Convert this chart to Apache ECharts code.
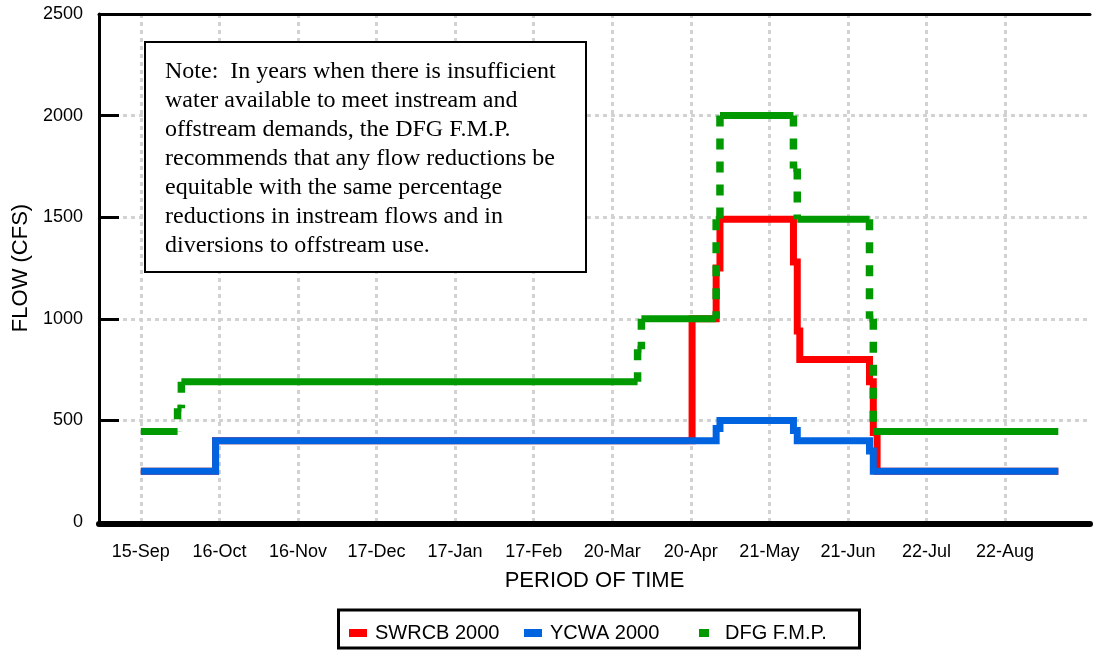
<!DOCTYPE html>
<html>
<head>
<meta charset="utf-8">
<title>Flow schedule</title>
<script src="https://cdn.jsdelivr.net/npm/echarts@6/dist/echarts.min.js"></script>
<style>
  html, body { margin: 0; padding: 0; background: #fff; }
  #main { width: 1093px; height: 650px; }
</style>
</head>
<body>
<div id="main"></div>
<script>
// x values are days counted from 15-Sep
var tickDays = [0, 31, 62, 93, 124, 155, 186, 217, 248, 279, 310, 341];
var tickLabels = ['15-Sep', '16-Oct', '16-Nov', '17-Dec', '17-Jan', '17-Feb',
                  '20-Mar', '20-Apr', '21-May', '21-Jun', '22-Jul', '22-Aug'];

// each flow holds from its day until the next day in the list
var swrcbDays = [0, 29.5, 217.5, 227, 228.5, 257.5, 259, 260, 287.5, 289, 290.5, 362];
var swrcbFlow = [250, 400, 1000, 1250, 1490, 1280, 940, 800, 690, 440, 250, 250];

var ycwaDays = [0, 29.5, 227, 228.5, 257.5, 259, 287.5, 289, 362];
var ycwaFlow = [250, 400, 460, 500, 450, 400, 350, 250, 250];

var dfgDays = [0, 14.5, 16, 196, 197.5, 227, 228.5, 257.5, 259, 287.5, 289, 362];
var dfgFlow = [445, 560, 690, 850, 1000, 1490, 2000, 1740, 1490, 1000, 445, 445];

var noteLines = [
  'Note:  In years when there is insufficient',
  'water available to meet instream and',
  'offstream demands, the DFG F.M.P.',
  'recommends that any flow reductions be',
  'equitable with the same percentage',
  'reductions in instream flows and in',
  'diversions to offstream use.'
];

var RED = '#FF0000', BLUE = '#0064E1', GREEN = '#009A00';
var SANS = '"Liberation Sans", Arial, sans-serif';
var SERIF = '"Liberation Serif", "Times New Roman", serif';

function pairs(days, flow) {
  return days.map(function (d, i) { return [d, flow[i]]; });
}

// DFG line: flat parts solid, the jumps dashed (as in the original)
var dfgFlat = [], dfgJumps = [];
for (var i = 0; i < dfgDays.length - 1; i++) {
  dfgFlat.push([dfgDays[i], dfgFlow[i]], [dfgDays[i + 1], dfgFlow[i]], ['-', '-']);
  if (dfgFlow[i + 1] !== dfgFlow[i]) {
    var hi = Math.max(dfgFlow[i], dfgFlow[i + 1]);
    var lo = Math.min(dfgFlow[i], dfgFlow[i + 1]);
    dfgJumps.push([dfgDays[i + 1], hi], [dfgDays[i + 1], lo], ['-', '-']);
  }
}

var chart = echarts.init(document.getElementById('main'));

var legendCommon = {
  top: 623,
  padding: 0,
  itemWidth: 18,
  itemHeight: 8,
  itemGap: 0,
  selectedMode: false,
  itemStyle: { borderWidth: 0 },
  textStyle: { fontFamily: SANS, fontSize: 20, color: '#000', padding: [0, 0, 0, 3] }
};

chart.setOption({
  animation: false,
  backgroundColor: '#fff',
  grid: { left: 99, right: 3, top: 14, bottom: 128 },
  xAxis: [{
    type: 'value',
    min: -16.5,
    max: 374.5,
    offset: 2,
    name: 'PERIOD OF TIME',
    nameLocation: 'middle',
    nameGap: 46,
    nameTextStyle: { fontFamily: SANS, fontSize: 22, color: '#000' },
    axisLine: { show: true, onZero: false, lineStyle: { color: '#000', width: 6 } },
    axisTick: { show: false, customValues: tickDays },
    axisLabel: {
      customValues: tickDays,
      margin: 19,
      fontFamily: SANS,
      fontSize: 18,
      color: '#000',
      formatter: function (v) {
        var k = tickDays.indexOf(v);
        return k >= 0 ? tickLabels[k] : '';
      }
    },
    splitLine: { show: true, lineStyle: { color: '#D2D2D2', width: 3, type: [4, 4] } }
  }, {
    type: 'value',
    position: 'top',
    min: -16.5,
    max: 374.5,
    axisLine: { show: true, onZero: false, lineStyle: { color: '#000', width: 3 } },
    axisTick: { show: false },
    axisLabel: { show: false },
    splitLine: { show: false }
  }],
  yAxis: {
    type: 'value',
    min: 0,
    max: 2500,
    interval: 500,
    name: 'FLOW (CFS)',
    nameLocation: 'middle',
    nameGap: 66,
    nameTextStyle: { fontFamily: SANS, fontSize: 22, color: '#000' },
    axisLine: { show: true, onZero: false, lineStyle: { color: '#000', width: 3 } },
    axisTick: { show: true, inside: true, length: 20, lineStyle: { color: '#000', width: 3 } },
    axisLabel: {
      margin: 16, fontFamily: SANS, fontSize: 18, color: '#000',
      formatter: function (v) { return String(v); }
    },
    splitLine: { show: true, lineStyle: { color: '#D2D2D2', width: 3, type: [4, 4] } }
  },
  legend: [
    Object.assign({ left: 349, data: [{ name: 'SWRCB 2000', icon: 'rect' }] }, legendCommon),
    Object.assign({ left: 524, data: [{ name: 'YCWA 2000', icon: 'rect' }] }, legendCommon),
    Object.assign({ left: 699, data: [{ name: 'DFG F.M.P.', icon: 'path://M0,0L10,0L10,8L0,8Z M18,8' }] }, legendCommon)
  ],
  graphic: [{
    type: 'rect',
    shape: { x: 338.5, y: 610, width: 521, height: 38 },
    style: { fill: 'none', stroke: '#000', lineWidth: 3 },
    silent: true
  }, {
    type: 'rect',
    z: 100,
    shape: { x: 145, y: 42, width: 441, height: 230 },
    style: { fill: '#fff', stroke: '#000', lineWidth: 2 },
    silent: true
  }, {
    type: 'text',
    z: 101,
    x: 165,
    y: 57,
    style: {
      text: noteLines.join('\n'),
      font: '24px ' + SERIF,
      lineHeight: 29,
      fill: '#000'
    },
    silent: true
  }],
  series: [{
    name: 'SWRCB 2000',
    type: 'line',
    step: 'end',
    symbol: 'none',
    color: RED,
    lineStyle: { color: RED, width: 7, cap: 'butt', join: 'miter' },
    data: pairs(swrcbDays, swrcbFlow)
  }, {
    name: 'YCWA 2000',
    type: 'line',
    step: 'end',
    symbol: 'none',
    color: BLUE,
    lineStyle: { color: BLUE, width: 7, cap: 'butt', join: 'miter' },
    data: pairs(ycwaDays, ycwaFlow)
  }, {
    name: 'DFG F.M.P.',
    type: 'line',
    symbol: 'none',
    color: GREEN,
    lineStyle: { color: GREEN, width: 7, cap: 'butt' },
    data: dfgFlat
  }, {
    name: 'DFG F.M.P.',
    type: 'line',
    symbol: 'none',
    color: GREEN,
    lineStyle: { color: GREEN, width: 7.5, cap: 'butt', type: [11, 12] },
    data: dfgJumps
  }]
});
</script>
</body>
</html>
